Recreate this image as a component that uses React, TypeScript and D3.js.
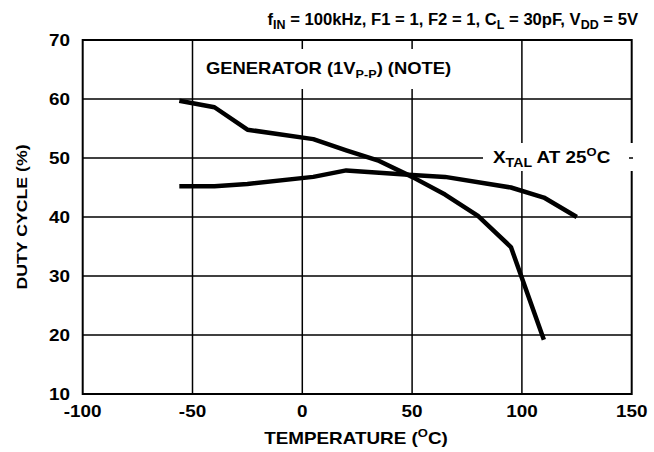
import React from "react";
import * as d3 from "d3";

const genTemps = [-56, -40, -25, 5, 20, 35, 50, 65, 80, 95, 110];
const genDuty = [59.7, 58.6, 54.8, 53.2, 51.3, 49.5, 46.8, 43.8, 40.2, 34.9, 19.2];
const xtalTemps = [-56, -40, -25, 5, 20, 50, 65, 95, 110, 125];
const xtalDuty = [45.2, 45.2, 45.6, 46.8, 47.9, 47.1, 46.8, 45.0, 43.3, 40.0];
const xTicks = [-100, -50, 0, 50, 100, 150];
const yTicks = [10, 20, 30, 40, 50, 60, 70];

const W = 654;
const H = 452;
const FONT = "'Liberation Sans', Arial, Helvetica, sans-serif";
const SX = 1.18;

export default function App() {
  const x = d3.scaleLinear().domain([-100, 150]).range([82.7, 631.7]);
  const y = d3.scaleLinear().domain([10, 70]).range([394, 40]);
  const line = d3
    .line<[number, number]>()
    .x((d) => x(d[0]))
    .y((d) => y(d[1]))
    .curve(d3.curveLinear);
  const gen = genTemps.map((t, i) => [t, genDuty[i]] as [number, number]);
  const xtal = xtalTemps.map((t, i) => [t, xtalDuty[i]] as [number, number]);
  const [x0, x1] = x.range();
  const [yb, yt] = y.range();

  const T = (px: number, py: number, sx = SX) => `translate(${px},${py}) scale(${sx},1)`;

  return (
    <svg
      width={W}
      height={H}
      style={{ position: "absolute", left: 0, top: 0, background: "#fff" }}
      fontFamily={FONT}
      fontWeight="bold"
    >
      <rect x={0} y={0} width={W} height={H} fill="#fff" />
      {/* grid */}
      {xTicks.slice(1, -1).map((t) => (
        <line key={"vx" + t} x1={x(t)} x2={x(t)} y1={yt} y2={yb} stroke="#000" strokeWidth={1.5} />
      ))}
      {yTicks.slice(1, -1).map((t) => (
        <line key={"hy" + t} x1={x0} x2={x1} y1={y(t)} y2={y(t)} stroke="#000" strokeWidth={1.5} />
      ))}
      <rect x={x0} y={yt} width={x1 - x0} height={yb - yt} fill="none" stroke="#000" strokeWidth={2} />

      {/* label backgrounds */}
      <rect x={200} y={49} width={256} height={40} fill="#fff" />
      <rect x={483} y={143} width={152} height={28} fill="#fff" />
      <line x1={629} x2={633} y1={y(50)} y2={y(50)} stroke="#000" strokeWidth={1.5} />

      {/* data */}
      <path d={line(gen) || ""} fill="none" stroke="#000" strokeWidth={4.5} strokeLinejoin="round" />
      <path d={line(xtal) || ""} fill="none" stroke="#000" strokeWidth={4.5} strokeLinejoin="round" />

      {/* y tick labels */}
      {yTicks.map((t) => (
        <text key={"yl" + t} transform={T(70, y(t) + 6)} textAnchor="end" fontSize={16}>
          {t}
        </text>
      ))}
      {/* x tick labels */}
      {xTicks.map((t) => (
        <text key={"xl" + t} transform={T(x(t), 417)} textAnchor="middle" fontSize={16}>
          {t}
        </text>
      ))}

      {/* axis titles */}
      <text transform={T(356, 444)} textAnchor="middle" fontSize={16}>
        TEMPERATURE (
        <tspan fontSize={11} dy={-7}>O</tspan>
        <tspan dy={7}>C)</tspan>
      </text>
      <text transform={`translate(27,${(yt + yb) / 2}) rotate(-90) scale(${SX},1)`} textAnchor="middle" fontSize={15}>
        DUTY CYCLE (%)
      </text>

      {/* title */}
      <text transform={T(638, 25, 1.04)} textAnchor="end" fontSize={16}>
        f<tspan fontSize={12} dy={4}>IN</tspan>
        <tspan dy={-4}> = 100kHz, F1 = 1, F2 = 1, C</tspan>
        <tspan fontSize={12} dy={4}>L</tspan>
        <tspan dy={-4}> = 30pF, V</tspan>
        <tspan fontSize={12} dy={4}>DD</tspan>
        <tspan dy={-4}> = 5V</tspan>
      </text>

      {/* annotations */}
      <text transform={T(206, 74, 1.15)} fontSize={16}>
        GENERATOR (1V<tspan fontSize={11} dy={4}>P-P</tspan>
        <tspan dy={-4}>) (NOTE)</tspan>
      </text>
      <text transform={T(493, 163)} fontSize={16}>
        X<tspan fontSize={12} dy={4}>TAL</tspan>
        <tspan dy={-4}> AT 25</tspan>
        <tspan fontSize={11} dy={-7}>O</tspan>
        <tspan dy={7}>C</tspan>
      </text>
    </svg>
  );
}
